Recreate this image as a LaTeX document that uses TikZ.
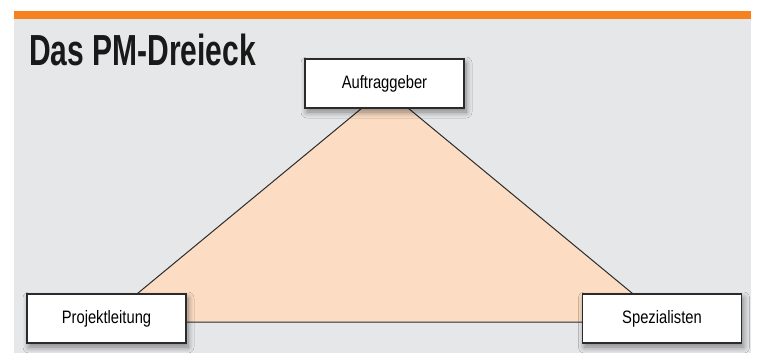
\documentclass[tikz,border=0pt]{standalone}
\usepackage{fontspec}
\setmainfont{Liberation Sans}
\newfontfamily\titlefont[FakeStretch=0.69]{Liberation Sans}
\newfontfamily\boxfont[FakeStretch=0.82]{Liberation Sans}
\usetikzlibrary{shadows.blur}
\definecolor{barorange}{HTML}{F5821F}
\definecolor{panelgrey}{HTML}{E6E7E9}
\definecolor{peach}{HTML}{FCDDC3}
\definecolor{edge}{HTML}{2B2B2B}
\tikzset{
  role/.style={draw=edge, line width=1.1pt, fill=white, minimum width=159pt,
    minimum height=49pt, inner sep=0pt, font=\boxfont\fontsize{18}{21}\selectfont,
    blur shadow={shadow xshift=2pt, shadow yshift=-4pt, shadow blur steps=10,
      shadow blur radius=6pt, shadow opacity=45}},
  trianglearea/.style={draw=edge, line width=1pt, fill=peach}
}
\begin{document}
\begin{tikzpicture}[x=1pt,y=-1pt]
  \useasboundingbox (0,0) rectangle (758,353);
  % page background: grey panel with orange top rule
  \fill[panelgrey] (14,19) rectangle (751,353);
  \fill[barorange] (14,11) rectangle (751,19);
  \node[anchor=south west, inner sep=0pt, font=\titlefont\bfseries\fontsize{43.5}{48}\selectfont, text=black!90] (title) at (29,66) {Das PM-Dreieck};
  % triangle between the three parties
  \coordinate (apex) at (385,89);
  \coordinate (left) at (103,322);
  \coordinate (right) at (667,322);
  \draw[trianglearea] (apex) -- (left) -- (right) -- cycle;
  % parties
  \node[role] (auftrag) at (384.5,83.5) {Auftraggeber};
  \node[role] (projekt) at (106.5,318.5) {Projektleitung};
  \node[role] (spezial) at (662,318.5) {Spezialisten};
\end{tikzpicture}
\end{document}
